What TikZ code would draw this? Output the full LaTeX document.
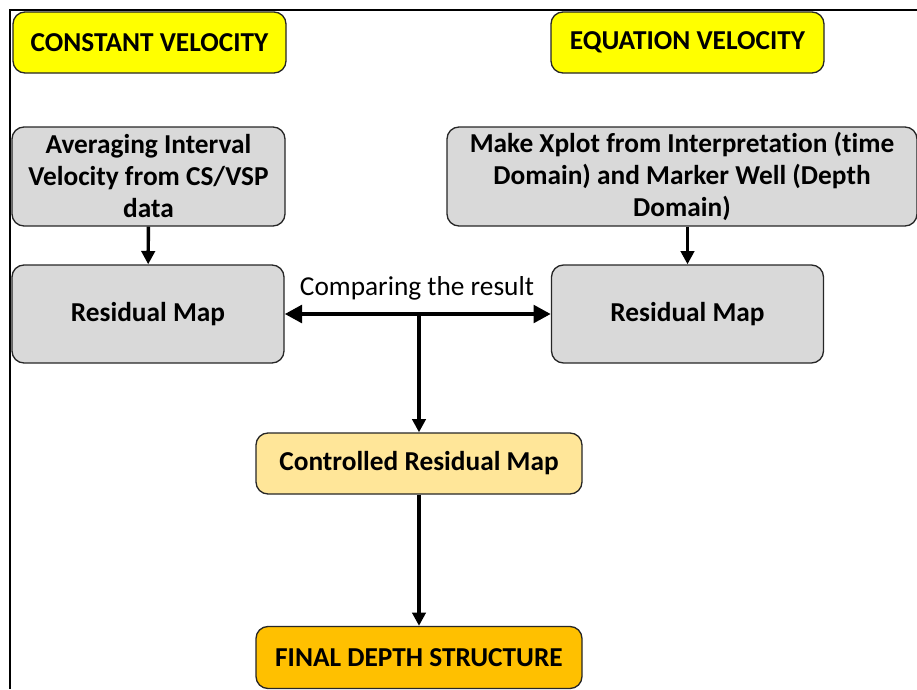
\documentclass[tikz,border=0pt]{standalone}
\usepackage{fontspec}
\setmainfont{Carlito}[Ligatures=CommonOff]
\usetikzlibrary{arrows.meta}

\definecolor{boxyellow}{HTML}{FFFF00}
\definecolor{boxgray}{HTML}{D9D9D9}
\definecolor{boxcream}{HTML}{FFE699}
\definecolor{boxorange}{HTML}{FFC000}

\tikzset{
  stepbox/.style={draw=black!85, line width=1pt, rounded corners=9pt, align=center,
    inner sep=0pt, font=\fontsize{20.5}{24}\selectfont\bfseries},
  flow/.style={line width=2.6pt, -{Triangle[length=10pt,width=10pt]}},
}

\begin{document}
\begin{tikzpicture}[x=0.75pt, y=-0.75pt]
  \useasboundingbox (0,0) rectangle (917,689);

  % frame
  \draw[line width=1.8pt] (917,10) -- (10,10) -- (10,689);

  % headers
  \node[stepbox, fill=boxyellow, minimum width=204.75pt, minimum height=45.75pt] (constvel) at (149.5,42.5) {CONSTANT VELOCITY};
  \node[stepbox, fill=boxyellow, minimum width=204.75pt, minimum height=45.75pt] (eqvel) at (687.5,42.5) {EQUATION VELOCITY};

  % left branch
  \node[stepbox, fill=boxgray, minimum width=204.75pt, minimum height=74.25pt] (avg) at (148.5,176.5) {Averaging Interval\\Velocity from CS/VSP\\data};
  \node[stepbox, fill=boxgray, minimum width=204pt, minimum height=73.5pt] (resleft) at (148,314) {Residual Map};

  % right branch
  \node[stepbox, fill=boxgray, minimum width=352.5pt, minimum height=74.25pt] (xplot) at (682,176.5) {Make Xplot from Interpretation (time\\Domain) and Marker Well (Depth\\Domain)};
  \node[stepbox, fill=boxgray, minimum width=204pt, minimum height=73.5pt] (resright) at (687.5,314) {Residual Map};

  % merge
  \node[stepbox, fill=boxcream, minimum width=244.5pt, minimum height=45.75pt] (ctrl) at (419,463.5) {Controlled Residual Map};
  \node[stepbox, fill=boxorange, minimum width=244.5pt, minimum height=46.5pt] (final) at (419,657.5) {FINAL DEPTH STRUCTURE};

  \draw[flow] (avg) -- (resleft);
  \draw[flow] (xplot.south -| resright) -- (resright);

  % comparison
  \draw[line width=3.4pt, {Triangle[length=13pt,width=13pt]}-{Triangle[length=13pt,width=13pt]}] (resleft.east) -- (resright.west);
  \node[font=\fontsize{20.5}{24}\selectfont] (cmp) at (417,288) {Comparing the result};
  \coordinate (split) at (ctrl.north |- resleft.east);
  \draw[flow] (split) -- (ctrl);
  \draw[flow] (ctrl) -- (final);
\end{tikzpicture}
\end{document}
